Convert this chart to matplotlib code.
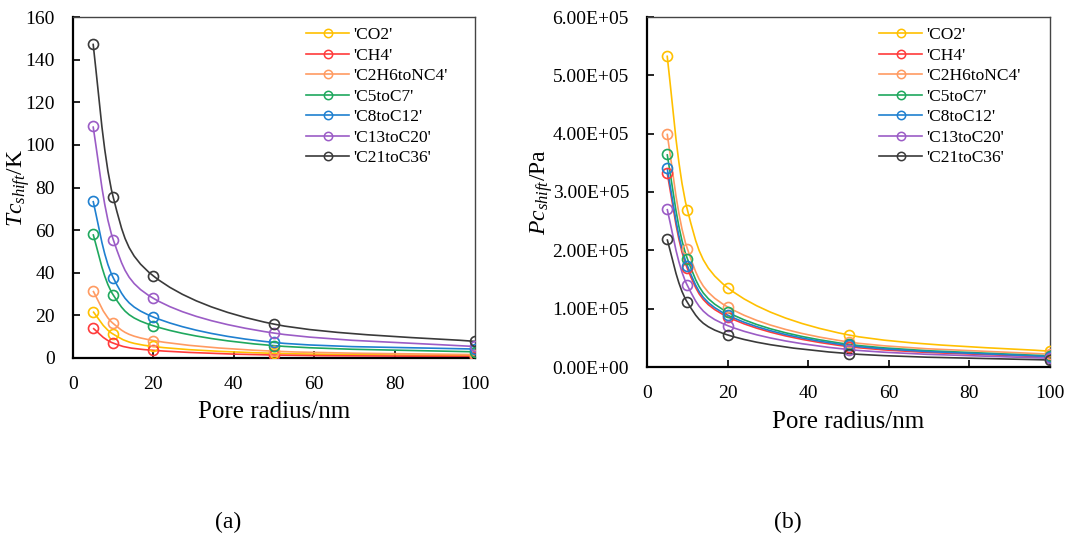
import matplotlib
matplotlib.use('Agg')
import matplotlib.pyplot as plt
from matplotlib.path import Path
from matplotlib.patches import PathPatch
from matplotlib.lines import Line2D
from matplotlib.ticker import FuncFormatter

plt.rcParams['font.family'] = 'Liberation Serif'
plt.rcParams['mathtext.fontset'] = 'custom'
plt.rcParams['mathtext.rm'] = 'Liberation Serif'
plt.rcParams['mathtext.it'] = 'Liberation Serif:italic'

# pore radius (nm)
radius = [5, 10, 20, 50, 100]
names = ["'CO2'", "'CH4'", "'C2H6toNC4'", "'C5toC7'", "'C8toC12'", "'C13toC20'", "'C21toC36'"]
colors = ['#FFC000', '#FF3B3B', '#FF9B62', '#1FA85E', '#1F80D0', '#9B5CC6', '#3A3A3A']

# critical temperature shift (K)
tc_co2 = [21.8, 11.2, 5.4, 2.2, 1.1]
tc_ch4 = [14.0, 7.0, 3.6, 1.4, 0.7]
tc_c2 = [31.5, 16.2, 8.2, 3.2, 1.6]
tc_c5 = [58.1, 29.6, 15.1, 5.8, 2.9]
tc_c8 = [73.7, 37.7, 19.2, 7.3, 4.2]
tc_c13 = [108.7, 55.6, 28.0, 11.7, 5.4]
tc_c21 = [147.5, 75.5, 38.5, 15.9, 7.8]

# critical pressure shift (Pa)
pc_co2 = [5.34e5, 2.70e5, 1.36e5, 0.55e5, 0.27e5]
pc_ch4 = [3.33e5, 1.69e5, 0.86e5, 0.35e5, 0.17e5]
pc_c2 = [4.00e5, 2.03e5, 1.03e5, 0.43e5, 0.22e5]
pc_c5 = [3.65e5, 1.86e5, 0.94e5, 0.39e5, 0.19e5]
pc_c8 = [3.41e5, 1.74e5, 0.89e5, 0.37e5, 0.18e5]
pc_c13 = [2.71e5, 1.40e5, 0.71e5, 0.30e5, 0.15e5]
pc_c21 = [2.19e5, 1.11e5, 0.55e5, 0.23e5, 0.12e5]

tc_all = [tc_co2, tc_ch4, tc_c2, tc_c5, tc_c8, tc_c13, tc_c21]
pc_all = [pc_co2, pc_ch4, pc_c2, pc_c5, pc_c8, pc_c13, pc_c21]


def smooth_path(x, y):
    # catmull-rom style bezier, like excel smoothed lines
    verts = [(x[0], y[0])]
    codes = [Path.MOVETO]
    n = len(x)
    for i in range(n - 1):
        a = i - 1 if i > 0 else i
        d = i + 2 if i + 2 < n else i + 1
        c1 = (x[i] + (x[i + 1] - x[a]) / 6, y[i] + (y[i + 1] - y[a]) / 6)
        c2 = (x[i + 1] - (x[d] - x[i]) / 6, y[i + 1] - (y[d] - y[i]) / 6)
        verts += [c1, c2, (x[i + 1], y[i + 1])]
        codes += [Path.CURVE4] * 3
    return Path(verts, codes)


def draw_panel(ax, data, ymax, ystep):
    for vals, c in zip(data, colors):
        ax.add_patch(PathPatch(smooth_path(radius, vals), facecolor='none',
                               edgecolor=c, lw=1.2, zorder=2))
        ax.plot(radius, vals, 'o', ms=7.2, mfc='none', mec=c, mew=1.2, zorder=3)
    ax.set_xlim(0, 100)
    ax.set_ylim(0, ymax)
    ax.set_xticks(range(0, 101, 20))
    ax.set_yticks([ystep * i for i in range(int(round(ymax / ystep)) + 1)])
    ax.tick_params(direction='in', length=5, width=1.2, labelsize=14, pad=13)
    for s in ['left', 'bottom']:
        ax.spines[s].set_linewidth(1.6)
        ax.spines[s].set_color('black')
    for s in ['top', 'right']:
        ax.spines[s].set_linewidth(1.0)
        ax.spines[s].set_color('#444444')
    ax.set_xlabel('Pore radius/nm', fontsize=18)
    ax.xaxis.set_label_coords(0.5, -0.126)
    handles = [Line2D([], [], color=c, lw=1.2, marker='o', ms=6, mfc='none', mec=c, mew=1.1)
               for c in colors]
    return handles


fig = plt.figure(figsize=(10.73, 5.38), dpi=100)
ax1 = fig.add_axes([73 / 1073, 1 - 358 / 538, 402 / 1073, 341 / 538])
ax2 = fig.add_axes([647 / 1073, 1 - 367 / 538, 403 / 1073, 350 / 538])

h = draw_panel(ax1, tc_all, 160, 20)
ax1.set_ylabel(r'$Tc_{shift}$/K', fontsize=17)
ax1.yaxis.set_label_coords(-0.102, 0.5)
fig.legend(h, names, loc='upper left', bbox_to_anchor=(306 / 1073, 1 - 27 / 538),
           frameon=False, fontsize=12.5, handlelength=2.5, handletextpad=0.2,
           labelspacing=0.25, borderpad=0, borderaxespad=0)

h = draw_panel(ax2, pc_all, 6e5, 1e5)
ax2.yaxis.set_major_formatter(FuncFormatter(lambda v, p: f'{v:.2E}'))
ax2.set_ylabel(r'$Pc_{shift}$/Pa', fontsize=17)
ax2.yaxis.set_label_coords(-0.228, 0.5)
fig.legend(h, names, loc='upper left', bbox_to_anchor=(879 / 1073, 1 - 27 / 538),
           frameon=False, fontsize=12.5, handlelength=2.5, handletextpad=0.2,
           labelspacing=0.25, borderpad=0, borderaxespad=0)

fig.text(228 / 1073, 1 - 522 / 538, '(a)', fontsize=17, ha='center', va='center')
fig.text(788 / 1073, 1 - 522 / 538, '(b)', fontsize=17, ha='center', va='center')

fig.savefig('out.png', dpi=100)
